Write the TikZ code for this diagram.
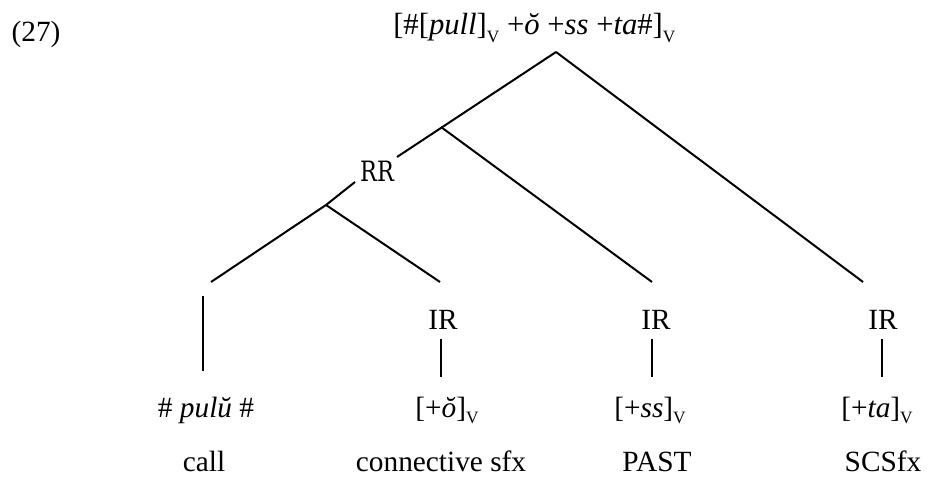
\documentclass[tikz,border=0pt]{standalone}
\usepackage{fontspec}
\setmainfont{Liberation Serif}
\newfontfamily\rrfont{DejaVu Serif}
\newcommand\vsub[1]{\raisebox{-0.5ex}{\fontsize{13}{13}\selectfont #1}}
\begin{document}
\begin{tikzpicture}[x=0.75pt,y=-0.75pt,
  lbl/.style={inner sep=0pt, anchor=base, font=\fontsize{22}{26}\selectfont},
  edge/.style={line width=1.5pt}]
\useasboundingbox (0,0) rectangle (930,477);
% labels
\node[lbl] (ex) at (36,42) {(27)};
\node[lbl, anchor=base west, font=\fontsize{23}{27}\selectfont] (top) at (393,35) {[\#[\textit{pull}]\vsub{V} +\textit{ŏ} +\textit{ss} +\textit{ta}\#]\vsub{V}};
\node[inner sep=0pt] (rr) at (377,171) {\scalebox{0.8}[1]{\rrfont\fontsize{21}{24}\selectfont RR}};
\node[lbl] (ir1) at (443,329) {IR};
\node[lbl] (ir2) at (656,329) {IR};
\node[lbl] (ir3) at (883,329) {IR};
\node[lbl] (m0) at (206,417) {\# \textit{pulŭ} \#};
\node[lbl] (m1) at (447,417) {[+\textit{ŏ}]\vsub{V}};
\node[lbl] (m2) at (650,417) {[+\textit{ss}]\vsub{V}};
\node[lbl] (m3) at (877,417) {[+\textit{ta}]\vsub{V}};
\node[lbl] (g0) at (204,471) {call};
\node[lbl] (g1) at (441,471) {connective sfx};
\node[lbl] (g2) at (657,471) {PAST};
\node[lbl] (g3) at (883,471) {SCSfx};
% tree points
\coordinate (apex) at (556,52);
\coordinate (rrt) at (397,157);
\coordinate (rrb) at (355,182);
\coordinate (j1) at (441,127);
\coordinate (j2) at (326,205);
\coordinate (e0) at (211,282);
\coordinate (e1) at (440,282);
\coordinate (e2) at (652,282);
\coordinate (e3) at (863,282);
\coordinate (v0t) at (203,296);
\coordinate (v0b) at (203,371);
\coordinate (v1t) at (441,339);
\coordinate (v1b) at (441,377);
\coordinate (v2t) at (652,339);
\coordinate (v2b) at (652,377);
\coordinate (v3t) at (882,339);
\coordinate (v3b) at (882,377);
% edges
\draw[edge] (apex) -- (rrt);
\draw[edge] (rrb) -- (j2);
\draw[edge] (apex) -- (e3);
\draw[edge] (j1) -- (e2);
\draw[edge] (j2) -- (e0);
\draw[edge] (j2) -- (e1);
\draw[edge] (v0t) -- (v0b);
\draw[edge] (v1t) -- (v1b);
\draw[edge] (v2t) -- (v2b);
\draw[edge] (v3t) -- (v3b);
\end{tikzpicture}
\end{document}
